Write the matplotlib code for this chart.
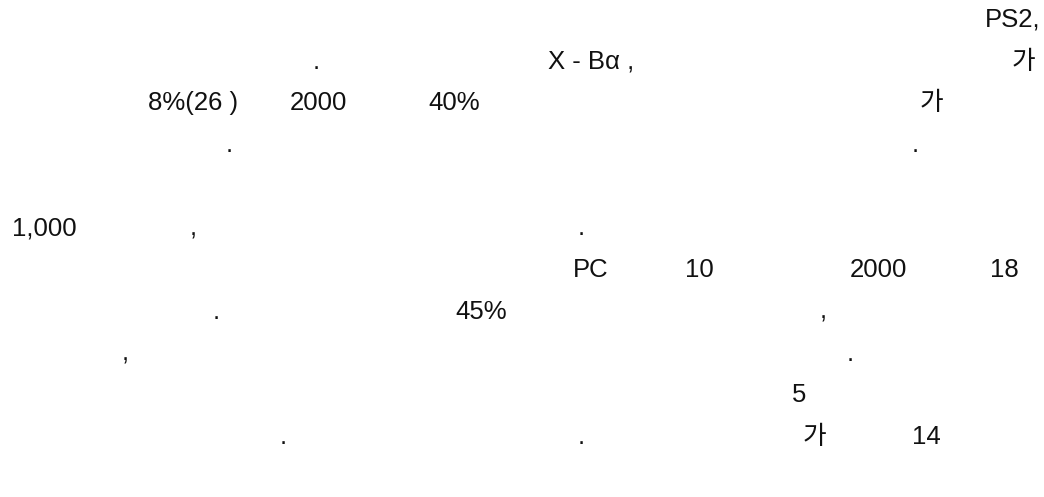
import matplotlib
matplotlib.use("Agg")
import matplotlib.pyplot as plt

# text fragments that survived in the page, row by row
rows = [
    ["PS2,"],
    [".", "X - Bα ,", "가"],
    ["8%(26 )", "2000", "40%", "가"],
    [".", "."],
    [],
    ["1,000", ",", "."],
    ["PC", "10", "2000", "18"],
    [".", "45%", ","],
    [",", "."],
    ["5"],
    [".", ".", "가", "14"],
]

# left edge (px) of every fragment
row_x = [
    [985],
    [313, 548, 1012],
    [148, 290, 428, 920],
    [226, 912],
    [],
    [12, 190, 578],
    [573, 685, 850, 990],
    [213, 455, 820],
    [122, 847],
    [792],
    [280, 578, 803, 912],
]

W, H = 1044, 497
fig = plt.figure(figsize=(W / 100, H / 100), dpi=100)
fig.patch.set_facecolor("white")

first_base = 27
line_gap = 41.7
for i, (texts, xs) in enumerate(zip(rows, row_x)):
    y = first_base + i * line_gap
    for t, x in zip(texts, xs):
        fig.text(x / W, 1 - y / H, t, fontsize=18.5, color="#111111",
                 family=["Liberation Sans", "Noto Sans CJK KR"],
                 ha="left", va="baseline")

fig.savefig("out.png", dpi=100, facecolor="white")
